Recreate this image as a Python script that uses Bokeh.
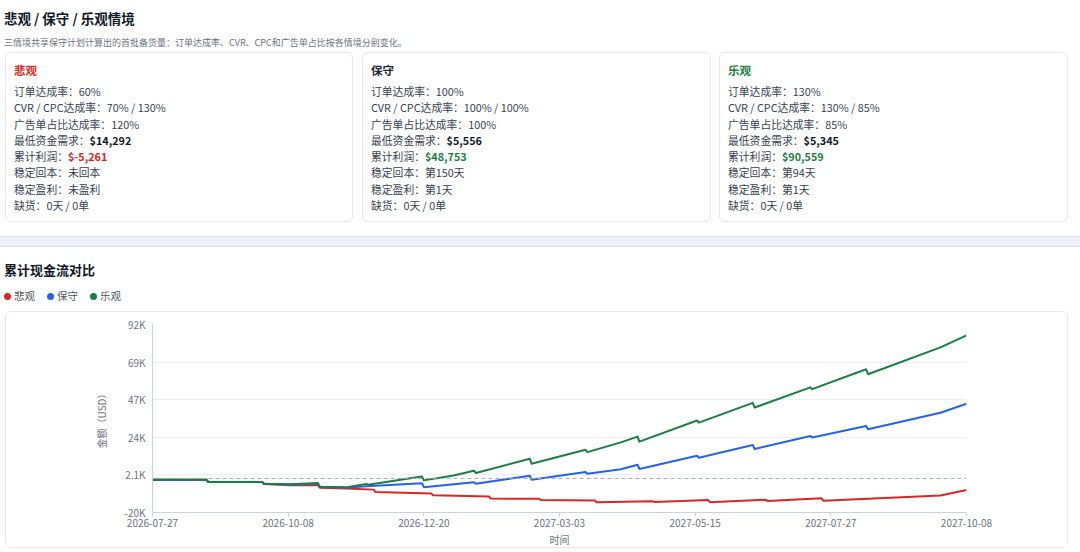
import pandas as pd
from bokeh.plotting import figure
from bokeh.models import Range1d, FixedTicker, DatetimeTickFormatter, Span, Div, ColumnDataSource
from bokeh.layouts import column
from bokeh.embed import file_html
from bokeh.resources import INLINE

FONT = "Noto Sans CJK SC"

# ---------------- data ----------------
START_DATE = "2026-07-27"
END_DATE = "2027-10-08"

series_names = ["悲观", "保守", "乐观"]
series_colors = ["#dc2626", "#2563eb", "#1a7f43"]

# day offsets from START_DATE and cumulative cash flow (thousand USD)
red_days = [0, 29, 30, 59, 60, 74, 89, 90, 104, 119, 120, 150, 151, 181, 182, 208, 209,
            238, 239, 269, 270, 299, 300, 330, 331, 360, 361, 424, 438]
red_k = [-0.75, -0.75, -2.12, -2.12, -3.31, -4.02, -4.02, -5.51, -5.98, -6.70, -8.18, -9.08,
         -10.09, -10.74, -12.05, -12.17, -12.94, -13.24, -14.29, -13.65, -14.05, -12.94,
         -14.20, -12.76, -13.53, -11.87, -13.42, -10.26, -6.88]

blue_days = [0, 29, 30, 59, 60, 74, 89, 90, 104, 115, 145, 146, 173, 174, 203, 204, 233,
             234, 252, 261, 262, 293, 294, 323, 324, 354, 355, 384, 385, 424, 438]
blue_k = [-0.75, -0.75, -2.12, -2.12, -3.13, -3.73, -3.13, -5.03, -5.56, -4.62, -2.83, -5.21,
          -2.24, -3.13, 1.62, -0.75, 3.82, 2.81, 5.49, 8.16, 5.67, 13.51, 12.32, 19.93, 17.56,
          25.40, 24.39, 31.35, 29.38, 39.25, 44.60]

green_days = [0, 29, 30, 59, 60, 74, 89, 90, 104, 115, 116, 145, 146, 162, 173, 174, 203,
              204, 233, 234, 252, 261, 262, 293, 294, 323, 324, 354, 355, 384, 385, 424, 438]
green_k = [-0.75, -0.75, -2.12, -2.12, -3.13, -3.55, -2.72, -4.91, -5.35, -3.31, -3.73, 1.21,
           -1.17, 1.80, 4.60, 3.23, 11.73, 8.76, 17.08, 15.71, 21.54, 24.99, 21.95, 34.62,
           33.31, 45.14, 42.34, 54.41, 53.34, 65.23, 62.26, 78.31, 85.44]

x_tick_dates = ["2026-07-27", "2026-10-08", "2026-12-20", "2027-03-03",
                "2027-05-15", "2027-07-27", "2027-10-08"]
y_min, y_max = -20370, 91980
y_ticks = [-20370, 2100, 24570, 47040, 69510, 91980]
y_tick_labels = ["-20K", "2.1K", "24K", "47K", "69K", "92K"]

# card texts
card_title_colors = ["#dc2626", "#1f2937", "#1a7f43"]
order_rates = ["60%", "100%", "130%"]
cvr_cpc_rates = ["70% / 130%", "100% / 100%", "130% / 85%"]
ad_rates = ["120%", "100%", "85%"]
min_funds = ["$14,292", "$5,556", "$5,345"]
profits = ["$-5,261", "$48,753", "$90,559"]
profit_colors = ["#dc2626", "#1a7f43", "#1a7f43"]
paybacks = ["未回本", "第150天", "第94天"]
profit_days = ["未盈利", "第1天", "第1天"]
stockouts = ["0天 / 0单", "0天 / 0单", "0天 / 0单"]

page_title = "悲观 / 保守 / 乐观情境"
page_subtitle = "三情境共享保守计划计算出的首批备货量：订单达成率、CVR、CPC和广告单占比按各情境分别变化。"
chart_title = "累计现金流对比"

# ---------------- header (HTML) ----------------
card_lefts = [5, 362, 719]
card_widths = [348, 349, 349]


def card_html(i):
    lines = [
        f"订单达成率：{order_rates[i]}",
        f"CVR / CPC达成率：{cvr_cpc_rates[i]}",
        f"广告单占比达成率：{ad_rates[i]}",
        f"最低资金需求：<b style='color:#111827;font-weight:700'>{min_funds[i]}</b>",
        f"累计利润：<b style='color:{profit_colors[i]};font-weight:700'>{profits[i]}</b>",
        f"稳定回本：{paybacks[i]}",
        f"稳定盈利：{profit_days[i]}",
        f"缺货：{stockouts[i]}",
    ]
    body = "".join(f"<div style='height:16.3px;line-height:16.3px;white-space:nowrap'>{t}</div>" for t in lines)
    return (
        f"<div style='position:absolute;left:{card_lefts[i]}px;top:52px;width:{card_widths[i]}px;height:170px;"
        f"box-sizing:border-box;border:1px solid #e5e7eb;border-radius:6px;background:#fff;'>"
        f"<div style='position:absolute;left:8px;top:9px;line-height:16px;font-size:11.5px;font-weight:700;"
        f"color:{card_title_colors[i]}'>{series_names[i]}</div>"
        f"<div style='position:absolute;left:8px;top:30px;font-size:10.8px;color:#374151'>{body}</div>"
        f"</div>"
    )


legend_x = [4, 47, 90]
legend_html = ""
for i, name in enumerate(series_names):
    legend_html += (
        f"<div style='position:absolute;left:{legend_x[i]}px;top:289px;height:14px;line-height:14px;"
        f"white-space:nowrap;font-size:10.5px;color:#4b5563'>"
        f"<span style='display:inline-block;width:7px;height:7px;border-radius:50%;background:{series_colors[i]};"
        f"vertical-align:middle;margin-right:3px;position:relative;top:-1px'></span>{name}</div>"
    )

html = (
    f"<div style=\"position:relative;width:1080px;height:311px;font-family:'{FONT}';background:#fff;\">"
    f"<div style='position:absolute;left:4px;top:8px;line-height:20px;font-size:13.5px;font-weight:700;color:#111827;white-space:nowrap'>{page_title}</div>"
    f"<div style='position:absolute;left:4px;top:37px;line-height:12px;font-size:9px;color:#6b7280;white-space:nowrap'>{page_subtitle}</div>"
    + "".join(card_html(i) for i in range(3)) +
    "<div style='position:absolute;left:0;top:236px;width:1080px;height:11px;box-sizing:border-box;"
    "background:#eef2f9;border-top:1px solid #dde3ec;border-bottom:1px solid #dde3ec'></div>"
    f"<div style='position:absolute;left:4px;top:260px;line-height:20px;font-size:13px;font-weight:700;color:#111827;white-space:nowrap'>{chart_title}</div>"
    + legend_html +
    "</div>"
)

header = Div(text=html, width=1080, height=311, margin=0)

# ---------------- chart ----------------
start_ts = pd.Timestamp(START_DATE)
end_ts = pd.Timestamp(END_DATE)

p = figure(width=1063, height=237, x_axis_type="datetime",
           x_range=Range1d(start_ts, end_ts), y_range=Range1d(y_min, y_max),
           output_backend="svg", toolbar_location=None,
           min_border_left=146, min_border_right=103, min_border_top=12, min_border_bottom=34,
           margin=(0, 0, 0, 5),
           styles={"border": "1px solid #e5e7eb", "border-radius": "6px"})
p.outline_line_color = None
p.background_fill_color = "#ffffff"
p.border_fill_color = "#ffffff"

p.add_layout(Span(location=0, dimension="width", line_color="#a3a9b3",
                  line_dash="4 3", line_width=1))

for days, vals, color, name in [(red_days, red_k, series_colors[0], series_names[0]),
                                (blue_days, blue_k, series_colors[1], series_names[1]),
                                (green_days, green_k, series_colors[2], series_names[2])]:
    src = ColumnDataSource(dict(
        date=[start_ts + pd.Timedelta(days=d) for d in days],
        value=[v * 1000 for v in vals],
    ))
    p.line(x="date", y="value", source=src, line_width=2, line_color=color, line_join="round")

fmt = "%Y-%m-%d"
p.xaxis.formatter = DatetimeTickFormatter(milliseconds=fmt, seconds=fmt, minsec=fmt, minutes=fmt,
                                          hourmin=fmt, hours=fmt, days=fmt, months=fmt, years=fmt)
p.xaxis.ticker = FixedTicker(ticks=[pd.Timestamp(d).value / 1e6 for d in x_tick_dates])
p.yaxis.ticker = FixedTicker(ticks=y_ticks)
p.yaxis.major_label_overrides = {t: l for t, l in zip(y_ticks, y_tick_labels)}

axis_color = "#c9d2df"
for ax in (p.xaxis, p.yaxis):
    ax.axis_line_color = axis_color
    ax.major_tick_line_color = axis_color
    ax.minor_tick_line_color = None
    ax.major_label_text_font = FONT
    ax.major_label_text_font_size = "10px"
    ax.major_label_text_color = "#6b7280"
    ax.axis_label_text_font = FONT
    ax.axis_label_text_font_size = "10px"
    ax.axis_label_text_font_style = "normal"
    ax.axis_label_text_color = "#6b7280"

p.xaxis.axis_label = "时间"
p.xaxis.major_tick_out = 4
p.xaxis.major_tick_in = 0
p.xaxis.major_label_standoff = 2
p.xaxis.axis_label_standoff = 2

p.yaxis.axis_label = "金额（USD）"
p.yaxis.major_tick_out = 0
p.yaxis.major_tick_in = 0
p.yaxis.major_label_standoff = 7
p.yaxis.axis_label_standoff = 12

p.xgrid.grid_line_color = None
p.ygrid.grid_line_color = "#eceff3"
p.ygrid.grid_line_width = 1

layout = column(header, p, spacing=0, margin=0)

open("out.html", "w").write(file_html(layout, INLINE))
